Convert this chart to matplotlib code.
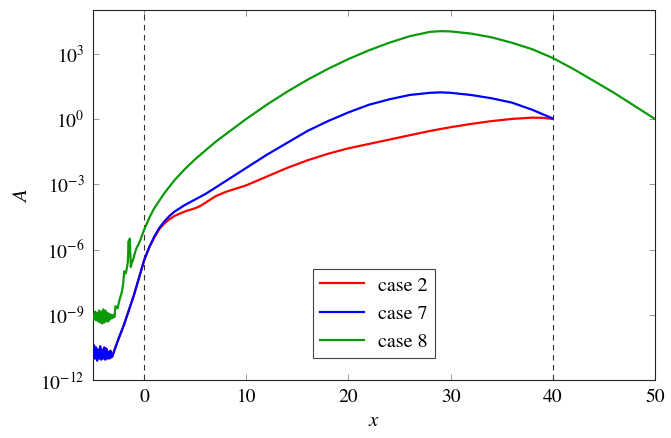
import numpy as np
import matplotlib
matplotlib.use("Agg")
import matplotlib.pyplot as plt

plt.rcParams['font.family'] = ['STIXGeneral', 'DejaVu Serif']
plt.rcParams['mathtext.fontset'] = 'stix'

# log10(A)
x_noise_blue = [-5.0, -4.9, -4.8, -4.7, -4.6, -4.5, -4.4, -4.3, -4.2, -4.1, -4.0,
                -3.9, -3.8, -3.7, -3.6, -3.5, -3.4, -3.3, -3.2, -3.1]
y_noise_blue = [-10.9, -10.4, -11.0, -10.5, -11.1, -10.6, -11.0, -10.45, -11.05, -10.6,
                -11.0, -10.5, -11.05, -10.55, -11.0, -10.7, -11.0, -10.65, -10.95, -10.9]

x_common = [-3.0, -2.5, -2.0, -1.5, -1.0, -0.5, 0.0, 0.5]
y_common = [-10.75, -10.1, -9.5, -8.8, -8.1, -7.3, -6.5, -5.9]

x_case7 = [1, 1.5, 2, 2.5, 3, 4, 5, 6, 7, 8, 9, 10, 12, 14, 16, 18, 20, 22, 24, 26,
           28, 29, 30, 32, 34, 36, 38, 40]
y_case7 = [-5.4, -5.0, -4.7, -4.45, -4.25, -3.95, -3.7, -3.45, -3.15, -2.85, -2.55,
           -2.25, -1.65, -1.1, -0.55, -0.1, 0.3, 0.65, 0.9, 1.1, 1.2, 1.22, 1.2, 1.1,
           0.95, 0.75, 0.42, 0.02]

x_case2 = [1, 1.5, 2, 2.5, 3, 4, 5, 5.5, 6, 7, 8, 9, 10, 12, 14, 16, 18, 20, 22, 24,
           26, 28, 30, 32, 34, 36, 38, 39, 40]
y_case2 = [-5.45, -5.05, -4.8, -4.6, -4.45, -4.25, -4.1, -4.0, -3.85, -3.55, -3.35,
           -3.2, -3.05, -2.65, -2.25, -1.9, -1.6, -1.35, -1.15, -0.95, -0.75, -0.55,
           -0.38, -0.23, -0.1, 0.0, 0.06, 0.05, 0.0]

x_case8 = [-5.0, -4.9, -4.8, -4.7, -4.6, -4.5, -4.4, -4.3, -4.2, -4.1, -4.0, -3.9,
           -3.8, -3.7, -3.6, -3.5, -3.4, -3.3, -3.2, -3.1, -3.0, -2.9, -2.8, -2.6,
           -2.4, -2.2, -2.05, -1.95, -1.8, -1.7, -1.6, -1.5, -1.45, -1.4, -1.3, -1.2,
           -1.1, -0.8, -0.4, 0.0, 0.5, 1, 1.5, 2, 2.5, 3, 4, 5, 6, 7, 8, 9, 10, 12,
           14, 16, 18, 20, 22, 24, 26, 28, 29, 30, 32, 34, 36, 38, 40, 42, 44, 46,
           48, 50]
y_case8 = [-9.0, -9.2, -8.85, -9.25, -8.9, -9.3, -8.8, -9.35, -8.85, -9.4, -8.75,
           -9.35, -8.8, -9.3, -8.9, -9.3, -8.95, -9.2, -9.0, -9.15, -9.0, -9.1, -8.6,
           -8.7, -8.3, -8.0, -7.6, -7.0, -7.1, -6.9, -6.6, -5.6, -6.3, -5.5, -6.8,
           -6.6, -6.5, -6.0, -5.6, -5.1, -4.55, -4.1, -3.75, -3.4, -3.1, -2.8, -2.3,
           -1.85, -1.45, -1.05, -0.7, -0.35, 0.0, 0.65, 1.25, 1.8, 2.3, 2.75, 3.15,
           3.5, 3.8, 4.0, 4.03, 4.02, 3.92, 3.75, 3.5, 3.2, 2.8, 2.3, 1.75, 1.2, 0.6,
           0.0]

labels = ["case 2", "case 7", "case 8"]
colors = ["#ff0000", "#0000ff", "#0a9a0a"]

fig = plt.figure(figsize=(6.71, 4.38), dpi=100)
ax = fig.add_axes([0.1386, 0.132, 0.8374, 0.845])

x7 = x_noise_blue + x_common + x_case7
y7 = y_noise_blue + y_common + y_case7
x2 = x_noise_blue + x_common + x_case2
y2 = y_noise_blue + y_common + y_case2

ax.plot(x2, 10.0 ** np.array(y2), color=colors[0], lw=1.6, label=labels[0], zorder=3)
ax.plot(x7, 10.0 ** np.array(y7), color=colors[1], lw=1.6, label=labels[1], zorder=4)
ax.plot(x_case8, 10.0 ** np.array(y_case8), color=colors[2], lw=1.6, label=labels[2], zorder=5)

for xv in [0, 40]:
    ax.axvline(xv, color="#333333", lw=0.8, ls=(0, (5, 4)), zorder=2)

ax.set_yscale("log")
ax.set_xlim(-5, 50)
ax.set_ylim(1e-12, 1e5)
ax.set_xticks([0, 10, 20, 30, 40, 50])
ax.set_yticks([1e-12, 1e-9, 1e-6, 1e-3, 1e0, 1e3])
ax.yaxis.set_minor_locator(matplotlib.ticker.NullLocator())
ax.tick_params(direction="in", top=True, right=True, length=4, width=0.6,
               color="#888888", labelsize=14, pad=6)
for s in ax.spines.values():
    s.set_linewidth(0.8)
    s.set_color("#222222")

ax.set_xlabel("$x$", fontsize=15, labelpad=4)
ax.set_ylabel("$A$", fontsize=15, labelpad=6)

leg = ax.legend(loc="lower center", bbox_to_anchor=(0.5, 0.033), fontsize=14.5,
                frameon=True, fancybox=False, framealpha=1, edgecolor="#444444",
                handlelength=2.2, borderpad=0.35, labelspacing=0.5, handletextpad=0.7)
leg.get_frame().set_linewidth(0.8)

fig.savefig("out.png", dpi=100)
